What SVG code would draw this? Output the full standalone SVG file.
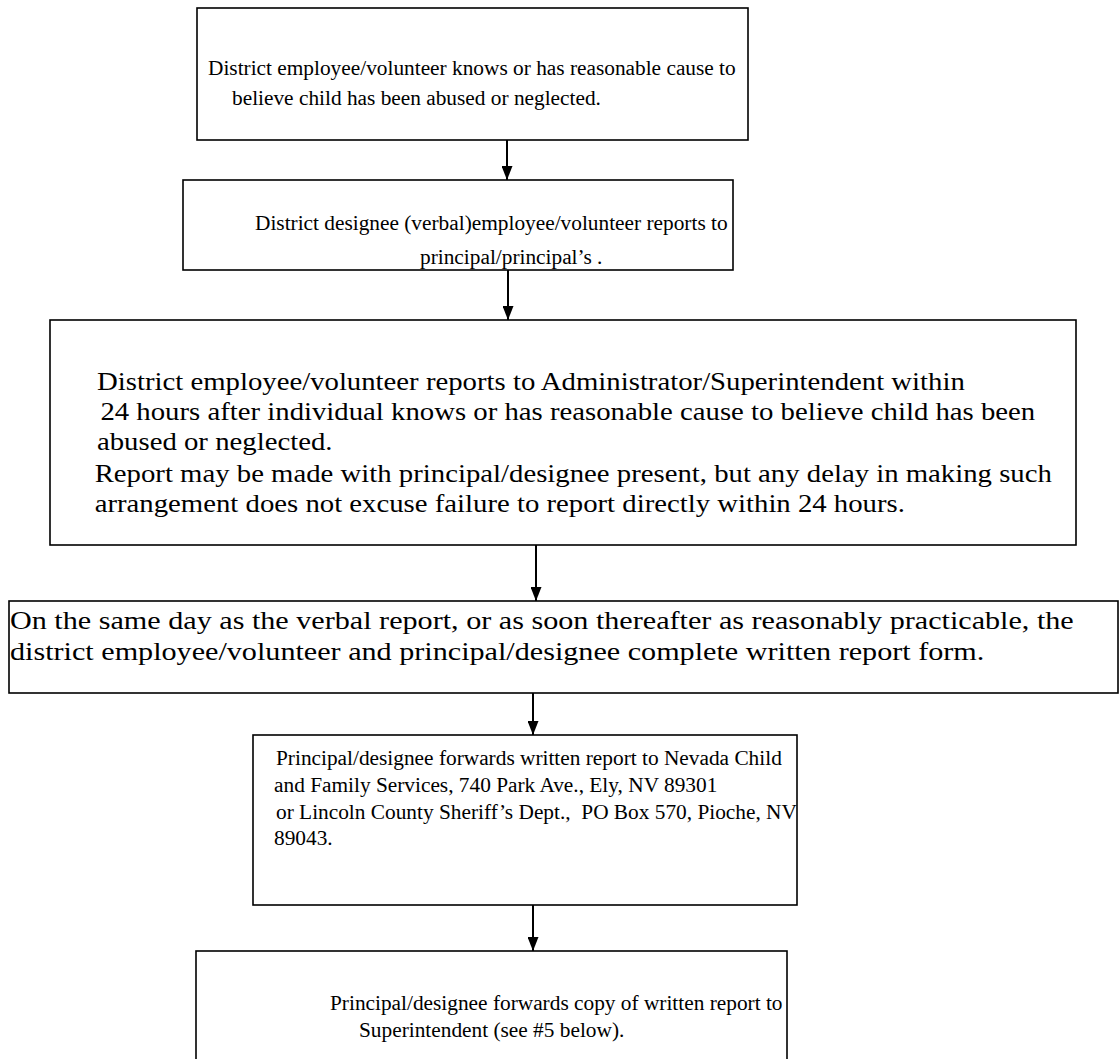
<svg xmlns="http://www.w3.org/2000/svg" width="1120" height="1059" viewBox="0 0 1120 1059">
<style>
.box{fill:#fff;stroke:#000;stroke-width:1.6}
.t{font-family:"Liberation Serif","Times New Roman",serif;font-size:21.33px;fill:#000}
.t2{font-family:"Liberation Serif","Times New Roman",serif;font-size:25px;fill:#000}
.t3{font-family:"Liberation Serif","Times New Roman",serif;font-size:26px;fill:#000}
.c{stroke:#000;stroke-width:2;fill:none}
</style>
<defs>
<marker id="ah" markerWidth="14" markerHeight="11" refX="14" refY="5.5" orient="auto" markerUnits="userSpaceOnUse" viewBox="0 0 14 11">
<path d="M0,0 L14,5.5 L0,11 Z" fill="#000"/>
</marker>
</defs>
<rect width="1120" height="1059" fill="#fff"/>
<g id="n1">
<rect class="box" x="197" y="8" width="551" height="132"/>
<text class="t" x="208" y="75">District employee/volunteer knows or has reasonable cause to</text>
<text class="t" x="232" y="105">believe child has been abused or neglected.</text>
</g>
<g id="n2">
<rect class="box" x="183" y="180" width="550" height="90"/>
<text class="t" x="255" y="230">District designee (verbal)employee/volunteer reports to</text>
<text class="t" x="420" y="264">principal/principal’s .</text>
</g>
<g id="n3">
<rect class="box" x="50" y="320" width="1026" height="225"/>
<g transform="translate(-14.55 0) scale(1.15 1)">
<text class="t2" x="97" y="390">District employee/volunteer reports to Administrator/Superintendent within</text>
<text class="t2" x="100" y="420">24 hours after individual knows or has reasonable cause to believe child has been</text>
<text class="t2" x="97" y="450">abused or neglected.</text>
<text class="t2" x="95" y="482">Report may be made with principal/designee present, but any delay in making such</text>
<text class="t2" x="95" y="512">arrangement does not excuse failure to report directly within 24 hours.</text>
</g>
</g>
<g id="n4">
<rect class="box" x="9" y="601" width="1109" height="92"/>
<g transform="translate(-1.6 0) scale(1.16 1)">
<text class="t3" x="10" y="629">On the same day as the verbal report, or as soon thereafter as reasonably practicable, the</text>
<text class="t3" x="10" y="660">district employee/volunteer and principal/designee complete written report form.</text>
</g>
</g>
<g id="n5">
<rect class="box" x="253" y="735" width="544" height="170"/>
<text class="t" x="276" y="765">Principal/designee forwards written report to Nevada Child</text>
<text class="t" x="274" y="792">and Family Services, 740 Park Ave., Ely, NV 89301</text>
<text class="t" x="276" y="819" xml:space="preserve">or Lincoln County Sheriff’s Dept.,  PO Box 570, Pioche, NV</text>
<text class="t" x="274" y="845">89043.</text>
</g>
<g id="n6">
<rect class="box" x="196" y="951" width="591" height="140"/>
<text class="t" x="330" y="1010">Principal/designee forwards copy of written report to</text>
<text class="t" x="359" y="1037">Superintendent (see #5 below).</text>
</g>
<g id="connectors">
<line class="c" x1="507" y1="140" x2="507" y2="180" marker-end="url(#ah)"/>
<line class="c" x1="508" y1="270" x2="508" y2="320" marker-end="url(#ah)"/>
<line class="c" x1="536" y1="545" x2="536" y2="601" marker-end="url(#ah)"/>
<line class="c" x1="533" y1="693" x2="533" y2="735" marker-end="url(#ah)"/>
<line class="c" x1="533" y1="905" x2="533" y2="951" marker-end="url(#ah)"/>
</g>
</svg>
